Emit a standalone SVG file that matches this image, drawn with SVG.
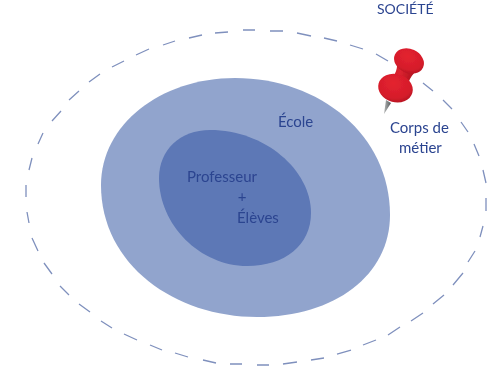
<svg xmlns="http://www.w3.org/2000/svg" width="487" height="372" viewBox="0 0 487 372">
<defs>
<radialGradient id="pinHead" cx="0.4" cy="0.35" r="0.8"><stop offset="0" stop-color="#e4222f"/><stop offset="0.65" stop-color="#d51d2b"/><stop offset="1" stop-color="#a60f1c"/></radialGradient>
<linearGradient id="pinNeck" x1="0" y1="0" x2="1" y2="0.4"><stop offset="0" stop-color="#bb121e"/><stop offset="0.5" stop-color="#dc2430"/><stop offset="1" stop-color="#a90f1b"/></linearGradient>
<linearGradient id="needle" x1="0" y1="0" x2="1" y2="0"><stop offset="0" stop-color="#b4b6b6"/><stop offset="1" stop-color="#55595c"/></linearGradient>
<filter id="soft" x="-5%" y="-5%" width="110%" height="110%"><feGaussianBlur stdDeviation="0.4"/></filter>
<filter id="softText" x="-5%" y="-20%" width="110%" height="140%"><feGaussianBlur stdDeviation="0.25"/></filter>
</defs>
<style>
text{font-family:"Lato","Open Sans","Liberation Sans",sans-serif;fill:#2c4490;font-size:15px;filter:url(#softText)}
.mid{text-anchor:middle}
#societe-border{fill:none;stroke:#7f90bd;stroke-width:1.3;stroke-linecap:butt}
</style>
<rect width="487" height="372" fill="#ffffff"/>
<g id="connectors">
<path id="societe-border" filter="url(#soft)" d="M26 185L26 197M29 170L32 158M38 144L43 133M52 121L61 111M69 100L79 91M89 82L100 74M112 67L124 61M136 55L149 49M163 45L175 41M189 38L202 35M215 33L228 32M243 30L255 30M270 31L283 31M297 33L311 36M324 38L337 41M350 45L363 49M376 54L388 61M423 83L433 91M443 100L452 109M461 122L468 132M474 144L479 156M483 170L486 183M486 198L486 211M483 226L480 237M475 251L468 262M463 273L453 285M444 295L433 304M423 313L411 321M400 327L388 335M376 340L363 345M351 350L337 354M324 358L311 360M297 362L283 364M269 365L257 365M242 364L230 364M216 363L203 360M188 357L175 353M162 350L150 345M137 340L124 334M112 328L101 321M90 312L79 304M69 295L60 286M52 274L44 263M38 251L32 238M29 223L27 212"/>
</g>
<g id="ecole">
<path fill="#91a4cd" filter="url(#soft)" d="M235 78C320 78 390 135 390 215C390 275 335 317 257 317C175 317 101 265 101 185C101 125 160 78 235 78Z"/>
<text x="278" y="127">École</text>
</g>
<g id="professeur-eleves">
<path fill="#5d78b6" filter="url(#soft)" d="M210 130C265 130 311 170 311 213C311 245 285 266 247 266C200 266 159 225 159 178C159 150 180 130 210 130Z"/>
<text x="187" y="182">Professeur</text>
<text class="mid" x="242" y="202">+</text>
<text x="237" y="223">Élèves</text>
</g>
<g id="societe"><text x="377" y="13.500" style="font-size:14px">SOCIÉTÉ</text></g>
<g id="corps-de-metier">
<g filter="url(#soft)">
<path fill="url(#needle)" d="M386 100L391 103L384 114Z"/>
<path fill="url(#pinNeck)" d="M397 62C398 70 394 78 386 84L408 94C406 85 409 78 417 70Z"/>
<ellipse cx="395.500" cy="88" rx="17.500" ry="14" transform="rotate(15 395 88)" fill="url(#pinHead)"/>
<ellipse cx="409" cy="61" rx="15.500" ry="12" transform="rotate(25 409 61)" fill="url(#pinHead)"/>
</g>
<text x="390" y="133">Corps de</text>
<text x="399" y="153">métier</text>
</g>
</svg>
